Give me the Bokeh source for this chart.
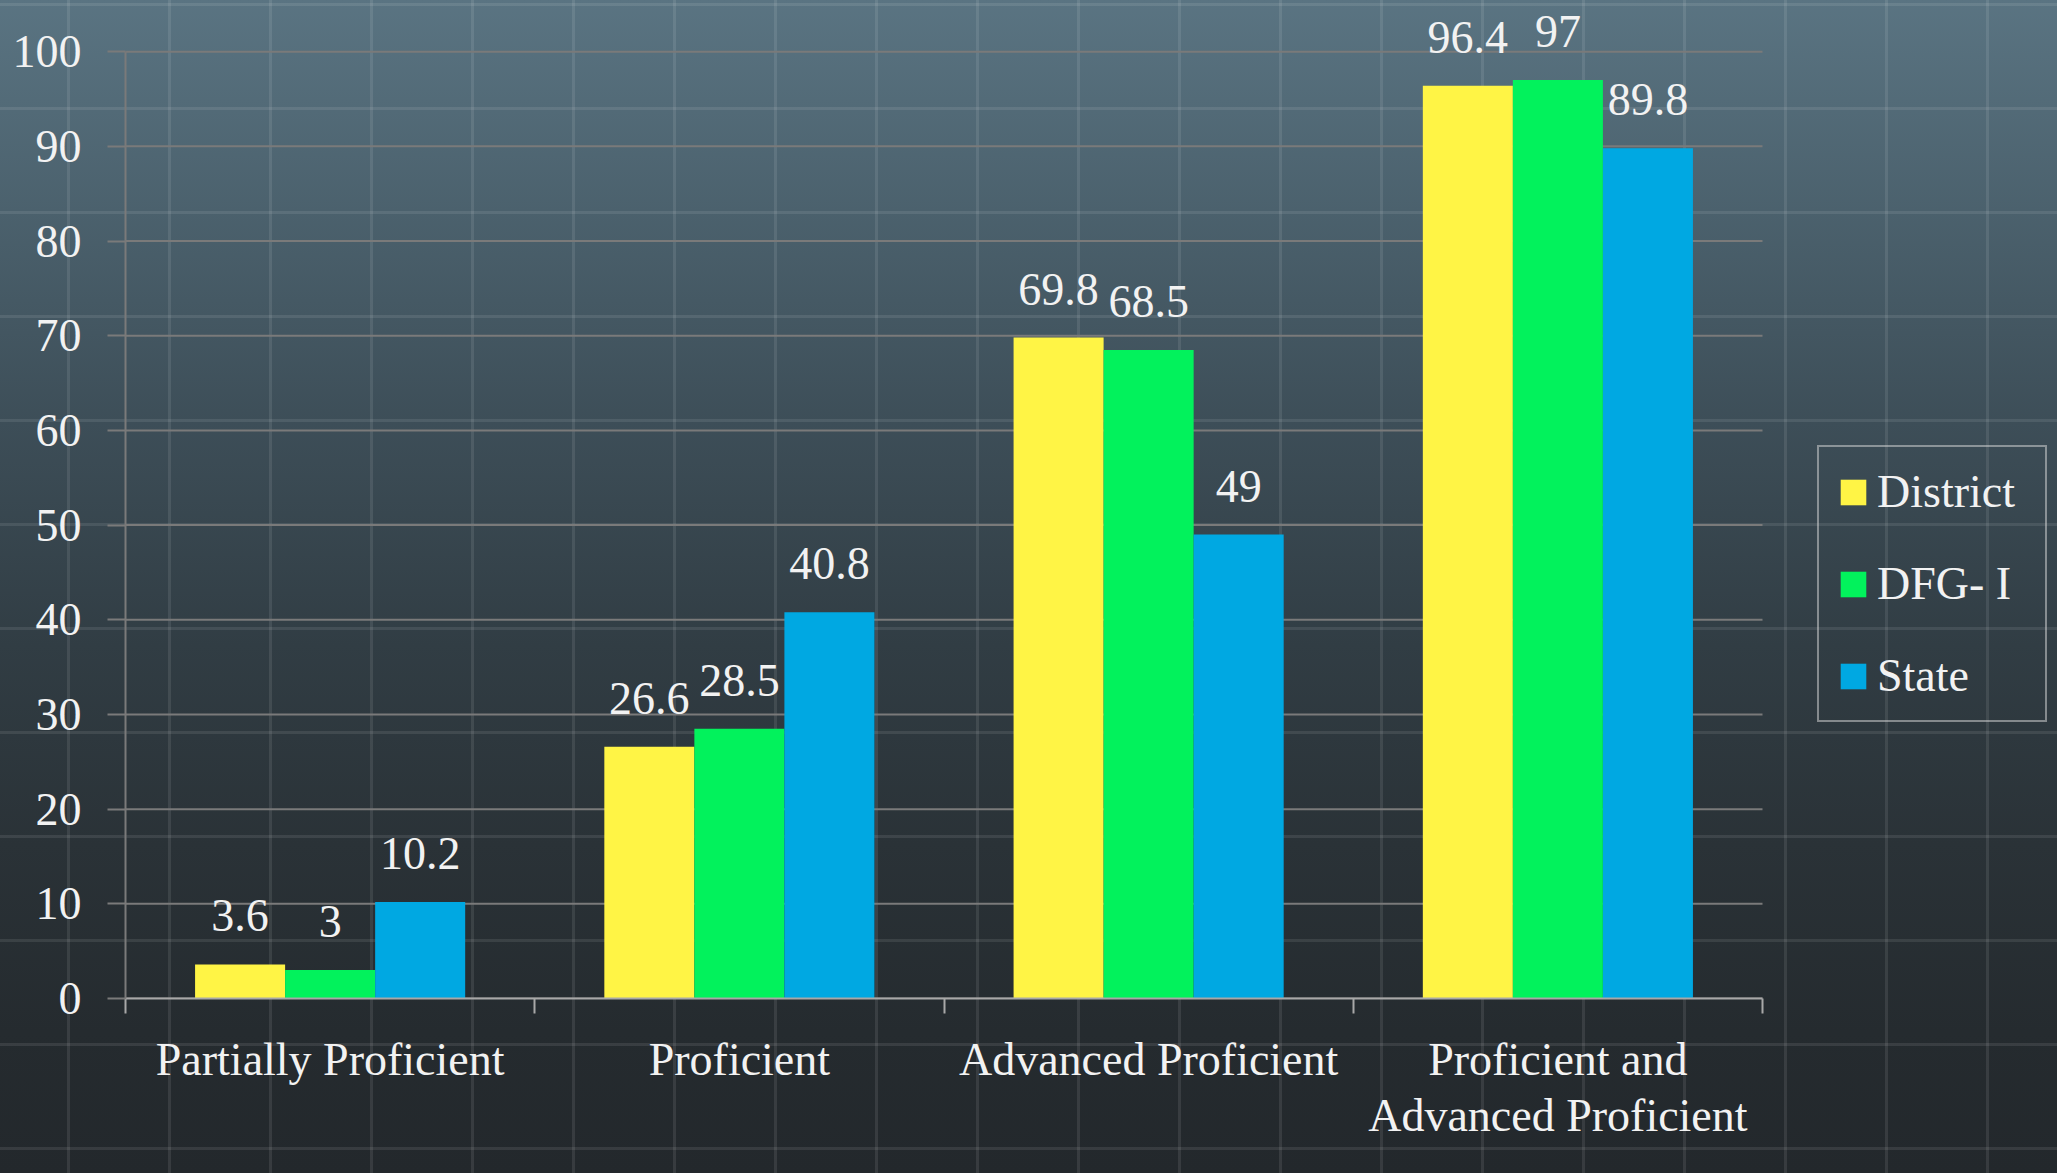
from bokeh.plotting import figure
from bokeh.models import (Range1d, ColumnDataSource, FixedTicker, LinearAxis,
                          Legend, LegendItem, LabelSet, GlobalInlineStyleSheet)
from bokeh.embed import file_html
from bokeh.resources import INLINE

# ---- data ----
categories = ["Partially Proficient", "Proficient", "Advanced Proficient",
              "Proficient and\nAdvanced Proficient"]
series_names = ["District", "DFG- I", "State"]
district = [3.6, 26.6, 69.8, 96.4]
dfg_i = [3.0, 28.5, 68.5, 97.0]
state = [10.2, 40.8, 49.0, 89.8]
y_ticks = [0, 10, 20, 30, 40, 50, 60, 70, 80, 90, 100]

colors = ["#fff445", "#02f25c", "#00a8e2"]
FONT = "Liberation Serif"
TXT = "#f2f2f2"
GRID = "#7a7a7a"

n_cat = len(categories)
cat_pos = [i + 0.5 for i in range(n_cat)]          # category centres on the axis
boundaries = [float(i) for i in range(n_cat + 1)]  # category boundaries

p = figure(width=2057, height=1173, output_backend="svg", toolbar_location=None,
           x_range=Range1d(0, 4.7208), y_range=Range1d(0, 104.35), x_axis_location=None,
           min_border_left=125, min_border_right=0, min_border_top=10, min_border_bottom=175)
p.background_fill_color = None
p.border_fill_color = None
p.outline_line_color = None
p.xgrid.visible = False
p.ygrid.visible = False

# horizontal grid lines restricted to the category area
p.segment(x0=[boundaries[0]] * len(y_ticks), x1=[boundaries[-1]] * len(y_ticks),
          y0=y_ticks, y1=y_ticks, line_color=GRID, line_width=2)

ya = p.yaxis[0]
ya.ticker = FixedTicker(ticks=y_ticks)
ya.bounds = (0, 100)
ya.axis_line_color = GRID
ya.axis_line_width = 2
ya.major_tick_line_color = GRID
ya.major_tick_line_width = 2
ya.major_tick_out = 18
ya.major_tick_in = 0
ya.minor_tick_line_color = None
ya.major_label_standoff = 26
ya.major_label_text_font = FONT
ya.major_label_text_font_size = "46px"
ya.major_label_text_color = TXT

# axis line with small ticks on the category boundaries (minor ticks => no labels)
tick_axis = LinearAxis(ticker=FixedTicker(ticks=[], minor_ticks=boundaries),
                       bounds=(boundaries[0], boundaries[-1]))
tick_axis.axis_line_color = "#a8a8a8"
tick_axis.axis_line_width = 2
tick_axis.major_tick_line_color = None
tick_axis.major_tick_out = 0
tick_axis.major_tick_in = 0
tick_axis.minor_tick_line_color = "#a8a8a8"
tick_axis.minor_tick_line_width = 2
tick_axis.minor_tick_out = 15
tick_axis.minor_tick_in = 0
tick_axis.major_label_standoff = 0
p.add_layout(tick_axis, "below")

cat_axis = LinearAxis(ticker=FixedTicker(ticks=cat_pos, minor_ticks=[]),
                      major_label_overrides={pos: name for pos, name in zip(cat_pos, categories)})
cat_axis.axis_line_color = None
cat_axis.major_tick_line_color = None
cat_axis.minor_tick_line_color = None
cat_axis.major_tick_out = 0
cat_axis.major_tick_in = 0
cat_axis.major_label_standoff = 20
cat_axis.major_label_text_font = FONT
cat_axis.major_label_text_font_size = "46px"
cat_axis.major_label_text_color = TXT
cat_axis.major_label_text_line_height = 1.1
p.add_layout(cat_axis, "below")

W = 0.22
offsets = [-W, 0.0, W]
series_values = [district, dfg_i, state]
items = []
for vals, off, color, name in zip(series_values, offsets, colors, series_names):
    src = ColumnDataSource(data=dict(
        x=[c + off for c in cat_pos], top=vals, lbl=[f"{v:g}" for v in vals]))
    r = p.vbar(x="x", top="top", width=W, source=src, fill_color=color, line_color=None)
    items.append(LegendItem(label=name, renderers=[r]))
    p.add_layout(LabelSet(x="x", y="top", text="lbl", source=src,
                          y_offset=33, text_align="center", text_baseline="alphabetic",
                          text_font=FONT, text_font_size="46px", text_color=TXT))

legend = Legend(items=items, location=(1692, 276), orientation="vertical")
legend.label_text_font = FONT
legend.label_text_font_size = "46px"
legend.label_text_color = TXT
legend.glyph_width = 32
legend.glyph_height = 32
legend.label_standoff = 8
legend.label_width = 150
legend.spacing = 39
legend.padding = 18
legend.margin = 0
legend.border_line_color = "#dcdcdc"
legend.border_line_width = 2
legend.background_fill_alpha = 0
p.add_layout(legend)

css = """
html {
  height: 100%;
  background-color: #252b2f;
  background-image:
    linear-gradient(to right, rgba(255,255,255,0.09) 0px, rgba(255,255,255,0.09) 3px, transparent 3px),
    linear-gradient(to bottom, rgba(255,255,255,0.09) 0px, rgba(255,255,255,0.09) 3px, transparent 3px),
    linear-gradient(to bottom, #5a7482 0%, #4b616d 18%, #3d4e58 36%, #313d44 55%, #2a3237 72%, #252b2f 88%, #23282c 100%);
  background-size: 101px 100%, 100% 104px, 100% 100%;
  background-position: 67px 0, 0 3px, 0 0;
  background-repeat: repeat, repeat, no-repeat;
}
body { background: transparent; }
"""
p.stylesheets = [GlobalInlineStyleSheet(css=css)]

open("out.html", "w").write(file_html(p, INLINE))
